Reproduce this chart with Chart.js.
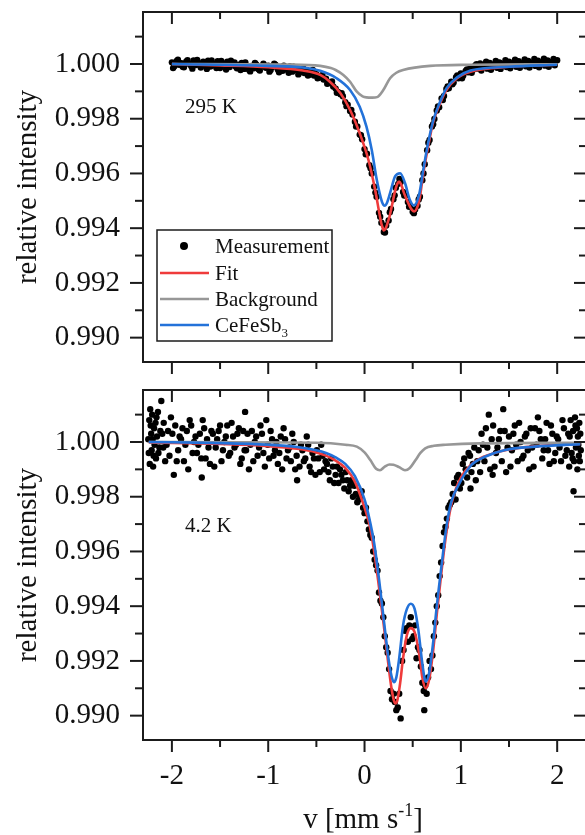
<!DOCTYPE html>
<html>
<head>
<meta charset="utf-8">
<script src="https://cdn.jsdelivr.net/npm/chart.js@4.4.1/dist/chart.umd.min.js"></script>
<style>
  html, body { margin: 0; padding: 0; background: #fff; overflow: hidden; width: 585px; height: 835px; }
  .panel { position: absolute; left: 0; }
  #roomWrap { top: 0; }
  #lowWrap { top: 380px; }
  canvas { display: block; }
</style>
</head>
<body>
<div class="panel" id="roomWrap"><canvas id="roomChart" width="600" height="380" style="width:600px;height:380px"></canvas></div>
<div class="panel" id="lowWrap"><canvas id="lowChart" width="600" height="455" style="width:600px;height:455px"></canvas></div>
<script>
const SERIF = '"Liberation Serif", "Times New Roman", serif';

const X_MIN = -2.3;
const X_MAX = 2.32;
const Y_MIN = 0.98911;
const Y_MAX = 1.0019;

// Axis ticks
const xMajorTicks = [-2, -1, 0, 1, 2];
const xMinorTicks = [-1.5, -0.5, 0.5, 1.5];
const yMajorTicks = [0.990, 0.992, 0.994, 0.996, 0.998, 1.000];
const yMinorTicks = [0.991, 0.993, 0.995, 0.997, 0.999, 1.001];

const seriesLabels = ['Measurement', 'Fit', 'Background', 'CeFeSb3'];
const seriesColors = ['#000000', '#ef3b3b', '#979797', '#2372d9'];

// ---- 295 K panel: [v (mm/s), relative intensity] ----
const roomMeasured = [
  [-2.000, 1.00006], [-1.975, 0.99992], [-1.950, 1.00011], [-1.925, 0.99997], [-1.900, 1.00003],
  [-1.875, 0.99988], [-1.850, 1.00009], [-1.825, 1.00001], [-1.800, 0.99993], [-1.775, 1.00013],
  [-1.750, 0.99996], [-1.725, 1.00004], [-1.700, 0.99987], [-1.675, 1.00008], [-1.650, 0.99999],
  [-1.625, 1.00012], [-1.600, 0.99991], [-1.575, 1.00002], [-1.550, 0.99994], [-1.525, 1.00010],
  [-1.500, 0.99985], [-1.475, 1.00003], [-1.450, 0.99996], [-1.425, 1.00008], [-1.400, 0.99989],
  [-1.375, 0.99999], [-1.350, 1.00006], [-1.325, 0.99984], [-1.300, 0.99997], [-1.275, 1.00004],
  [-1.250, 0.99982], [-1.225, 0.99990], [-1.200, 0.99979], [-1.175, 0.99993], [-1.150, 0.99984],
  [-1.125, 0.99998], [-1.100, 0.99981], [-1.075, 0.99991], [-1.050, 1.00001], [-1.025, 0.99986],
  [-1.000, 0.99994], [-0.975, 0.99978], [-0.950, 0.99990], [-0.925, 0.99997], [-0.900, 0.99980],
  [-0.875, 0.99989], [-0.850, 0.99975], [-0.825, 0.99988], [-0.800, 0.99979], [-0.775, 0.99991],
  [-0.750, 0.99972], [-0.725, 0.99984], [-0.700, 0.99977], [-0.675, 0.99969], [-0.650, 0.99981],
  [-0.625, 0.99967], [-0.600, 0.99975], [-0.575, 0.99961], [-0.550, 0.99972], [-0.525, 0.99958],
  [-0.500, 0.99963], [-0.475, 0.99950], [-0.450, 0.99955], [-0.425, 0.99943], [-0.400, 0.99946],
  [-0.375, 0.99930], [-0.350, 0.99932], [-0.325, 0.99918], [-0.300, 0.99910], [-0.275, 0.99898],
  [-0.250, 0.99889], [-0.225, 0.99882], [-0.200, 0.99860], [-0.175, 0.99851], [-0.150, 0.99828],
  [-0.125, 0.99815], [-0.100, 0.99789], [-0.075, 0.99772], [-0.050, 0.99742], [-0.025, 0.99725],
  [0.000, 0.99689], [0.025, 0.99672], [0.050, 0.99630], [0.075, 0.99600], [0.100, 0.99552],
  [0.125, 0.99515], [0.150, 0.99456], [0.175, 0.99420], [0.200, 0.99386], [0.225, 0.99410],
  [0.250, 0.99428], [0.275, 0.99470], [0.300, 0.99506], [0.325, 0.99548], [0.350, 0.99562],
  [0.375, 0.99569], [0.400, 0.99532], [0.425, 0.99520], [0.450, 0.99496], [0.475, 0.99482],
  [0.500, 0.99460], [0.525, 0.99468], [0.550, 0.99482], [0.575, 0.99515], [0.600, 0.99575],
  [0.625, 0.99634], [0.650, 0.99685], [0.675, 0.99722], [0.700, 0.99772], [0.725, 0.99799],
  [0.750, 0.99830], [0.775, 0.99842], [0.800, 0.99874], [0.825, 0.99883], [0.850, 0.99909],
  [0.875, 0.99911], [0.900, 0.99935], [0.925, 0.99932], [0.950, 0.99952], [0.975, 0.99948],
  [1.000, 0.99965], [1.025, 0.99958], [1.050, 0.99975], [1.075, 0.99970], [1.100, 0.99988],
  [1.125, 0.99979], [1.150, 0.99995], [1.175, 0.99983], [1.200, 1.00002], [1.225, 0.99987],
  [1.250, 0.99996], [1.275, 0.99983], [1.300, 1.00004], [1.325, 0.99990], [1.350, 0.99999],
  [1.375, 0.99986], [1.400, 1.00006], [1.425, 0.99992], [1.450, 1.00001], [1.475, 0.99989],
  [1.500, 1.00008], [1.525, 0.99995], [1.550, 1.00003], [1.575, 0.99990], [1.600, 1.00010],
  [1.625, 0.99996], [1.650, 1.00005], [1.675, 0.99992], [1.700, 1.00011], [1.725, 0.99998],
  [1.750, 1.00006], [1.775, 0.99993], [1.800, 1.00012], [1.825, 0.99999], [1.850, 1.00007],
  [1.875, 0.99994], [1.900, 1.00013], [1.925, 1.00000], [1.950, 1.00008], [1.975, 0.99995],
  [2.000, 1.00014],
  [-1.9875, 0.99985], [-1.9375, 1.00016], [-1.8875, 0.99990], [-1.8375, 1.00014], [-1.7875, 0.99983],
  [-1.7375, 1.00015], [-1.6875, 0.99994], [-1.6375, 0.99982], [-1.5875, 1.00013], [-1.5375, 0.99985],
  [-1.4875, 1.00011], [-1.4375, 0.99980], [-1.3875, 1.00012], [-1.3375, 0.99991], [-1.2875, 0.99978],
  [-1.2375, 1.00006], [-1.1875, 0.99973], [-1.1375, 1.00004], [-1.0875, 0.99976], [-1.0375, 0.99995],
  [-0.9875, 0.99972], [-0.9375, 1.00001], [-0.8875, 0.99970], [-0.8375, 0.99994], [-0.7875, 0.99968],
  [-0.7375, 0.99990], [-0.6875, 0.99962], [-0.6375, 0.99985], [-0.5875, 0.99958], [-0.5375, 0.99978],
  [-0.4875, 0.99948], [-0.4375, 0.99960], [-0.3875, 0.99928], [-0.3375, 0.99936], [-0.2875, 0.99895],
  [-0.2375, 0.99893], [-0.1875, 0.99846], [-0.1375, 0.99832], [-0.0875, 0.99772], [-0.0375, 0.99740],
  [0.0125, 0.99670], [0.0625, 0.99619], [0.1125, 0.99530], [0.1625, 0.99442], [0.2125, 0.99384],
  [0.2625, 0.99458], [0.3125, 0.99520], [0.3625, 0.99580], [0.4125, 0.99519], [0.4625, 0.99478],
  [0.5125, 0.99455], [0.5625, 0.99505], [0.6125, 0.99600], [0.6625, 0.99712], [0.7125, 0.99780],
  [0.7625, 0.99845], [0.8125, 0.99868], [0.8625, 0.99918], [0.9125, 0.99926], [0.9625, 0.99958],
  [1.0125, 0.99948], [1.0625, 0.99980], [1.1125, 0.99968], [1.1625, 0.99999], [1.2125, 0.99976],
  [1.2625, 1.00008], [1.3125, 0.99979], [1.3625, 1.00011], [1.4125, 0.99982], [1.4625, 1.00014],
  [1.5125, 0.99984], [1.5625, 1.00016], [1.6125, 0.99986], [1.6625, 1.00017], [1.7125, 0.99987],
  [1.7625, 1.00018], [1.8125, 0.99988], [1.8625, 1.00019], [1.9125, 0.99990], [1.9625, 1.00018]
];

const roomFit = [
  [-2.0, 1.00000], [-1.5, 0.99995], [-1.0, 0.99988], [-0.64, 0.99976], [-0.46, 0.99960],
  [-0.36, 0.99935], [-0.25, 0.99893], [-0.15, 0.99832], [-0.05, 0.99747], [0.04, 0.99650],
  [0.11, 0.99540], [0.16, 0.99443], [0.18, 0.99410], [0.20, 0.99392], [0.22, 0.99400],
  [0.24, 0.99420], [0.26, 0.99443], [0.32, 0.99540], [0.34, 0.99562], [0.36, 0.99570],
  [0.38, 0.99560], [0.41, 0.99528], [0.47, 0.99480], [0.49, 0.99468], [0.515, 0.99461],
  [0.54, 0.99470], [0.57, 0.99504], [0.61, 0.99601], [0.66, 0.99698], [0.71, 0.99784],
  [0.77, 0.99844], [0.85, 0.99905], [0.96, 0.99948], [1.1, 0.99972], [1.5, 0.99990],
  [2.0, 0.99997]
];

const roomBackground = [
  [-2.0, 1.00000], [-0.8, 0.99998], [-0.46, 0.99993], [-0.35, 0.99985], [-0.3, 0.99978],
  [-0.22, 0.99960], [-0.15, 0.99935], [-0.08, 0.99899], [-0.02, 0.99882], [0.02, 0.99878],
  [0.08, 0.99877], [0.13, 0.99879], [0.195, 0.99905], [0.265, 0.99948], [0.33, 0.99968],
  [0.40, 0.99978], [0.68, 0.99993], [1.1, 0.99997], [2.0, 0.99999]
];

const roomCeFeSb3 = [
  [-2.0, 1.00000], [-1.0, 0.99993], [-0.64, 0.99987], [-0.46, 0.99975], [-0.29, 0.99948],
  [-0.15, 0.99905], [-0.05, 0.99844], [0.02, 0.99771], [0.075, 0.99686], [0.127, 0.99577],
  [0.18, 0.99497], [0.195, 0.99486], [0.213, 0.99482], [0.23, 0.99490], [0.265, 0.99528],
  [0.317, 0.99589], [0.37, 0.99601], [0.42, 0.99565], [0.47, 0.99504], [0.515, 0.99483],
  [0.57, 0.99528], [0.61, 0.99613], [0.66, 0.99711], [0.71, 0.99789], [0.77, 0.99850],
  [0.85, 0.99911], [0.96, 0.99951], [1.1, 0.99976], [1.5, 0.99990], [2.0, 0.99997]
];

// ---- 4.2 K panel ----
const lowMeasured = [
  [-2.245, 1.0001], [-2.240, 0.9996], [-2.235, 1.0008], [-2.230, 0.9992], [-2.225, 1.0012],
  [-2.220, 1.0006], [-2.215, 1.0003], [-2.210, 0.9997], [-2.205, 1.0010], [-2.200, 1.0001],
  [-2.195, 0.9991], [-2.190, 0.9995], [-2.185, 1.0005], [-2.180, 0.9999], [-2.170, 1.0007],
  [-2.165, 0.9994], [-2.160, 1.0009], [-2.155, 1.0002], [-2.145, 1.0011], [-2.140, 0.9996],
  [-2.130, 0.9998], [-2.120, 1.0004], [-2.110, 1.0015], [-2.100, 1.0003], [-2.090, 0.9998],
  [-2.070, 0.9993], [-2.040, 1.0004], [-2.010, 1.0009], [-1.980, 0.9988], [-1.950, 0.9993],
  [-1.920, 1.0002], [-1.890, 1.0005], [-1.860, 0.9999], [-1.830, 0.9990], [-1.800, 1.0006],
  [-1.770, 1.0000], [-1.740, 0.9996], [-1.710, 1.0003], [-1.690, 0.9987], [-1.680, 1.0008],
  [-1.650, 0.9994], [-1.620, 0.9998], [-1.590, 1.0004], [-1.560, 0.9991], [-1.530, 1.0001],
  [-1.500, 1.0006], [-1.470, 0.9997], [-1.440, 1.0002], [-1.410, 0.9995], [-1.380, 1.0007],
  [-1.350, 0.9998], [-1.320, 1.0003], [-1.290, 0.9992], [-1.260, 1.0004], [-1.240, 1.0011],
  [-1.230, 0.9997], [-1.200, 0.9990], [-1.170, 1.0004], [-1.140, 1.0000], [-1.110, 0.9995],
  [-1.080, 1.0006], [-1.050, 0.9996], [-1.020, 1.0008], [-0.990, 0.9994], [-0.960, 1.0001],
  [-0.930, 0.9997], [-0.900, 0.9992], [-0.870, 1.0002], [-0.840, 1.0005], [-0.810, 0.9994],
  [-0.780, 0.9998], [-0.750, 1.0003], [-0.720, 0.9990], [-0.700, 0.9986], [-0.660, 0.9999],
  [-0.630, 0.9993], [-0.600, 1.0002], [-0.570, 0.9991], [-0.540, 0.9996], [-0.510, 0.9988],
  [-0.480, 0.9994], [-0.450, 0.9999], [-0.420, 0.9990], [-0.390, 0.9992], [-0.360, 0.9986],
  [-0.330, 0.9991], [-0.300, 0.9988], [-0.270, 0.9985], [-0.240, 0.9988], [-0.210, 0.9983],
  [-0.180, 0.9986], [-0.150, 0.9984], [-0.120, 0.9980], [-0.090, 0.9981], [-0.060, 0.9979],
  [-0.030, 0.9982], [0.000, 0.9974], [0.030, 0.9971], [0.060, 0.9966], [0.090, 0.9960],
  [0.120, 0.9955], [0.150, 0.9945], [0.180, 0.9941], [0.210, 0.9929], [0.240, 0.9923],
  [0.270, 0.9909], [0.300, 0.9908], [0.330, 0.9902], [0.360, 0.9908], [0.375, 0.9899],
  [0.390, 0.9920], [0.420, 0.9931], [0.450, 0.9927], [0.480, 0.9936], [0.510, 0.9929],
  [0.540, 0.9921], [0.570, 0.9924], [0.600, 0.9912], [0.620, 0.9902], [0.630, 0.9911],
  [0.660, 0.9914], [0.690, 0.9917], [0.720, 0.9929], [0.750, 0.9940], [0.780, 0.9951],
  [0.810, 0.9962], [0.840, 0.9969], [0.870, 0.9976], [0.900, 0.9978], [0.930, 0.9985],
  [0.960, 0.9987], [0.990, 0.9983], [1.020, 0.9992], [1.050, 0.9990], [1.080, 0.9996],
  [1.100, 0.9983], [1.110, 0.9989], [1.140, 0.9998], [1.170, 0.9993], [1.200, 0.9989],
  [1.230, 0.9999], [1.260, 1.0005], [1.290, 1.0010], [1.320, 1.0001], [1.330, 0.9988],
  [1.350, 0.9991], [1.380, 0.9998], [1.410, 1.0004], [1.440, 1.0012], [1.470, 0.9989],
  [1.500, 1.0002], [1.530, 0.9997], [1.560, 1.0006], [1.590, 0.9993], [1.620, 1.0000],
  [1.650, 0.9995], [1.680, 1.0003], [1.710, 0.9990], [1.740, 0.9998], [1.770, 1.0005],
  [1.800, 1.0009], [1.830, 1.0001], [1.860, 0.9997], [1.890, 1.0007], [1.920, 0.9992],
  [1.950, 1.0003], [1.980, 0.9996], [2.010, 1.0001], [2.040, 0.9993], [2.070, 1.0005],
  [2.100, 0.9997], [2.125, 0.9991], [2.130, 1.0002], [2.140, 1.0008], [2.150, 0.9996],
  [2.160, 0.9994], [2.165, 1.0004], [2.170, 0.9982], [2.175, 0.9993], [2.185, 1.0009],
  [2.190, 1.0006], [2.195, 0.9998], [2.205, 1.0005], [2.210, 0.9990], [2.215, 1.0002],
  [2.220, 0.9999], [2.225, 0.9995], [2.230, 1.0007], [2.235, 0.9993], [2.240, 1.0003],
  [2.245, 0.9997],
  [-2.085, 1.0007], [-2.055, 0.9999], [-2.025, 0.9995], [-1.995, 1.0003], [-1.965, 1.0006],
  [-1.935, 0.9997], [-1.905, 1.0001], [-1.875, 0.9993], [-1.845, 1.0004], [-1.815, 1.0008],
  [-1.785, 0.9996], [-1.755, 1.0002], [-1.725, 0.9999], [-1.695, 0.9994], [-1.665, 1.0005],
  [-1.635, 1.0001], [-1.605, 0.9992], [-1.575, 1.0003], [-1.545, 0.9998], [-1.515, 1.0004],
  [-1.485, 0.9993], [-1.455, 1.0000], [-1.425, 1.0006], [-1.395, 0.9996], [-1.365, 1.0002],
  [-1.335, 0.9999], [-1.305, 1.0005], [-1.275, 0.9994], [-1.245, 0.9997], [-1.215, 1.0003],
  [-1.185, 0.9999], [-1.155, 0.9993], [-1.125, 1.0002], [-1.095, 0.9998], [-1.065, 1.0003],
  [-1.035, 0.9991], [-1.005, 0.9999], [-0.975, 1.0004], [-0.945, 0.9995], [-0.915, 1.0000],
  [-0.885, 0.9996], [-0.855, 0.9990], [-0.825, 1.0001], [-0.795, 0.9997], [-0.765, 0.9993],
  [-0.735, 1.0000], [-0.705, 0.9995], [-0.675, 0.9991], [-0.645, 0.9997], [-0.615, 0.9994],
  [-0.585, 0.9999], [-0.555, 0.9989], [-0.525, 0.9994], [-0.495, 0.9997], [-0.465, 0.9989],
  [-0.435, 0.9995], [-0.405, 0.9993], [-0.375, 0.9989], [-0.345, 0.9994], [-0.315, 0.9985],
  [-0.285, 0.9991], [-0.255, 0.9990], [-0.225, 0.9986], [-0.195, 0.9989], [-0.165, 0.9982],
  [-0.135, 0.9986], [-0.105, 0.9984], [-0.075, 0.9978], [-0.045, 0.9980], [-0.015, 0.9976],
  [0.015, 0.9976], [0.045, 0.9968], [0.075, 0.9965], [0.105, 0.9957], [0.135, 0.9953],
  [0.165, 0.9942], [0.195, 0.9936], [0.225, 0.9925], [0.255, 0.9917], [0.285, 0.9906],
  [0.315, 0.9905], [0.345, 0.9903], [0.405, 0.9924], [0.435, 0.9932], [0.465, 0.9933],
  [0.495, 0.9928], [0.525, 0.9933], [0.555, 0.9925], [0.585, 0.9918], [0.615, 0.9909],
  [0.645, 0.9908], [0.675, 0.9920], [0.705, 0.9922], [0.735, 0.9934], [0.765, 0.9944],
  [0.795, 0.9956], [0.825, 0.9967], [0.855, 0.9972], [0.885, 0.9977],
  [0.915, 0.9981], [0.945, 0.9979], [0.975, 0.9988], [1.005, 0.9985], [1.035, 0.9994],
  [1.065, 0.9987], [1.095, 0.9995], [1.125, 0.9992], [1.155, 0.9986], [1.185, 0.9997],
  [1.215, 1.0003], [1.245, 0.9993], [1.275, 0.9998], [1.305, 0.9990], [1.335, 1.0006],
  [1.365, 0.9996], [1.395, 1.0001], [1.425, 0.9993], [1.455, 1.0004], [1.485, 0.9998],
  [1.515, 0.9991], [1.545, 1.0003], [1.575, 0.9999], [1.605, 1.0007], [1.635, 0.9994],
  [1.665, 1.0002], [1.695, 0.9997], [1.725, 1.0005], [1.755, 0.9991], [1.785, 0.9999],
  [1.815, 1.0004], [1.845, 0.9994], [1.875, 1.0001], [1.905, 0.9997], [1.935, 1.0006],
  [1.965, 0.9993], [1.995, 1.0002], [2.025, 0.9998], [2.055, 1.0008], [2.085, 0.9995],
  [2.115, 1.0003]
];

const lowFit = [
  [-2.24, 0.99998], [-1.5, 0.99993], [-1.0, 0.99985], [-0.7, 0.99975], [-0.5, 0.99962],
  [-0.4, 0.99950], [-0.3, 0.99932], [-0.2, 0.99905], [-0.1, 0.99855], [0.0, 0.99760],
  [0.05, 0.99700], [0.1, 0.99600], [0.15, 0.99470], [0.2, 0.99330], [0.25, 0.99180],
  [0.28, 0.99100], [0.305, 0.99055], [0.32, 0.99045], [0.34, 0.99055], [0.37, 0.99120],
  [0.4, 0.99210], [0.44, 0.99295], [0.48, 0.99320], [0.52, 0.99305], [0.57, 0.99220],
  [0.6, 0.99140], [0.635, 0.99100], [0.67, 0.99130], [0.71, 0.99230], [0.75, 0.99370],
  [0.8, 0.99530], [0.85, 0.99670], [0.9, 0.99770], [0.95, 0.99830], [1.0, 0.99870],
  [1.1, 0.99915], [1.2, 0.99940], [1.4, 0.99965], [1.6, 0.99978], [1.8, 0.99985],
  [2.0, 0.99990], [2.24, 0.99993]
];

const lowBackground = [
  [-2.24, 1.00000], [-0.5, 0.99997], [-0.2, 0.99990], [-0.08, 0.99983], [0.0, 0.99962],
  [0.06, 0.99934], [0.12, 0.99902], [0.16, 0.99897], [0.21, 0.99910], [0.26, 0.99918],
  [0.3, 0.99917], [0.36, 0.99908], [0.42, 0.99897], [0.47, 0.99905], [0.53, 0.99934],
  [0.58, 0.99960], [0.63, 0.99977], [0.72, 0.99986], [0.84, 0.99990], [1.2, 0.99995],
  [2.24, 0.99997]
];

const lowCeFeSb3 = [
  [-2.24, 1.00000], [-1.5, 0.99996], [-1.0, 0.99990], [-0.7, 0.99982], [-0.5, 0.99970],
  [-0.4, 0.99960], [-0.3, 0.99944], [-0.2, 0.99920], [-0.1, 0.99875], [0.0, 0.99790],
  [0.05, 0.99720], [0.1, 0.99630], [0.15, 0.99500], [0.2, 0.99350], [0.25, 0.99205],
  [0.28, 0.99145], [0.305, 0.99122], [0.33, 0.99140], [0.36, 0.99210], [0.4, 0.99330],
  [0.44, 0.99390], [0.48, 0.99409], [0.52, 0.99390], [0.56, 0.99310], [0.6, 0.99190],
  [0.635, 0.99125], [0.67, 0.99155], [0.71, 0.99260], [0.75, 0.99400], [0.8, 0.99550],
  [0.85, 0.99690], [0.9, 0.99780], [0.975, 0.99842], [1.11, 0.99916], [1.25, 0.99946],
  [1.46, 0.99971], [1.77, 0.99983], [2.24, 0.99992]
];

// Build the four datasets of one panel (lower order = drawn on top)
function makeDatasets(measured, fit, background, phase) {
  const line = (idx, data, order) => ({
    label: seriesLabels[idx],
    data: data,
    showLine: true,
    pointRadius: 0,
    borderColor: seriesColors[idx],
    borderWidth: 2.6,
    cubicInterpolationMode: 'monotone',
    order: order
  });
  return [
    {
      label: seriesLabels[0],
      data: measured,
      showLine: false,
      pointRadius: 3.2,
      pointBackgroundColor: seriesColors[0],
      pointBorderWidth: 0,
      order: 4
    },
    line(1, fit, 3),
    line(2, background, 2),
    line(3, phase, 1)
  ];
}

function strokeLine(ctx, x1, y1, x2, y2) {
  ctx.beginPath();
  ctx.moveTo(x1, y1);
  ctx.lineTo(x2, y2);
  ctx.stroke();
}

// Text with a lowered/raised small part, e.g. Sb_3 or s^-1
function drawScriptText(ctx, parts, x, y, size) {
  let cx = x;
  parts.forEach(p => {
    const s = p.small ? size * 0.62 : size;
    ctx.font = s + 'px ' + SERIF;
    ctx.fillText(p.text, cx, y + (p.shift || 0));
    cx += ctx.measureText(p.text).width;
  });
  return cx - x;
}

function measureScriptText(ctx, parts, size) {
  let w = 0;
  parts.forEach(p => {
    ctx.font = (p.small ? size * 0.62 : size) + 'px ' + SERIF;
    w += ctx.measureText(p.text).width;
  });
  return w;
}

// Frame, in/out ticks, labels and legend
const panelDecor = {
  id: 'panelDecor',
  afterDatasetsDraw(chart, args, opts) {
    const ctx = chart.ctx;
    const area = chart.chartArea;
    const xs = chart.scales.x;
    const ys = chart.scales.y;
    ctx.save();
    ctx.strokeStyle = '#1b1b1b';
    ctx.lineWidth = 2;
    ctx.strokeRect(area.left, area.top, area.right - area.left, area.bottom - area.top);

    xMajorTicks.forEach(v => {
      const px = xs.getPixelForValue(v);
      strokeLine(ctx, px, area.bottom, px, area.bottom + 12);
      strokeLine(ctx, px, area.top, px, area.top + 12);
    });
    xMinorTicks.forEach(v => {
      const px = xs.getPixelForValue(v);
      strokeLine(ctx, px, area.bottom, px, area.bottom + 7);
      strokeLine(ctx, px, area.top, px, area.top + 7);
    });
    yMajorTicks.forEach(v => {
      const py = ys.getPixelForValue(v);
      strokeLine(ctx, area.left - 13, py, area.left, py);
      strokeLine(ctx, area.right - 14, py, area.right, py);
    });
    yMinorTicks.forEach(v => {
      const py = ys.getPixelForValue(v);
      strokeLine(ctx, area.left - 8, py, area.left, py);
      strokeLine(ctx, area.right - 9, py, area.right, py);
    });

    ctx.fillStyle = '#111';
    ctx.textBaseline = 'alphabetic';
    ctx.textAlign = 'left';
    ctx.font = '21px ' + SERIF;
    ctx.fillText(opts.temperature, 185, opts.tempBaseline);

    // y axis title
    ctx.save();
    ctx.translate(36, (area.top + area.bottom) / 2);
    ctx.rotate(-Math.PI / 2);
    ctx.textAlign = 'center';
    ctx.font = '29px ' + SERIF;
    ctx.fillText('relative intensity', 0, 0);
    ctx.restore();

    if (opts.legend) {
      const box = { left: 157, top: 230, width: 175, height: 111 };
      ctx.fillStyle = '#fff';
      ctx.fillRect(box.left, box.top, box.width, box.height);
      ctx.lineWidth = 1.5;
      ctx.strokeStyle = '#1b1b1b';
      ctx.strokeRect(box.left, box.top, box.width, box.height);
      const rows = [246, 273, 299, 325];
      chart.data.datasets.forEach((ds, i) => {
        const y = rows[i];
        if (i === 0) {
          ctx.fillStyle = seriesColors[0];
          ctx.beginPath();
          ctx.arc(184, y, 4, 0, Math.PI * 2);
          ctx.fill();
        } else {
          ctx.strokeStyle = ds.borderColor;
          ctx.lineWidth = 2.5;
          strokeLine(ctx, 160, y, 209, y);
        }
        ctx.fillStyle = '#111';
        ctx.textAlign = 'left';
        if (ds.label === 'CeFeSb3') {
          drawScriptText(ctx, [{ text: 'CeFeSb' }, { text: '3', small: true, shift: 5 }], 215, y + 7, 21);
        } else {
          ctx.font = '21px ' + SERIF;
          ctx.fillText(ds.label, 215, y + 7);
        }
      });
    }

    if (opts.xTitle) {
      const parts = [{ text: 'v [mm s' }, { text: '-1', small: true, shift: -12 }, { text: ']' }];
      ctx.fillStyle = '#111';
      ctx.textAlign = 'left';
      const w = measureScriptText(ctx, parts, 29);
      drawScriptText(ctx, parts, 363 - w / 2, opts.xTitleBaseline, 29);
    }
    ctx.restore();
  }
};

function makeOptions(cfg) {
  return {
    responsive: false,
    animation: false,
    events: [],
    layout: { padding: { top: cfg.padTop, right: 12, left: 0, bottom: 0 } },
    plugins: {
      legend: { display: false },
      tooltip: { enabled: false },
      panelDecor: cfg.decor
    },
    scales: {
      x: {
        type: 'linear',
        min: X_MIN,
        max: X_MAX,
        grid: { display: false, drawTicks: false },
        border: { display: false },
        ticks: {
          display: cfg.showX,
          font: { family: SERIF, size: 29 },
          color: '#111',
          padding: 19,
          maxRotation: 0,
          autoSkip: false,
          callback: v => String(v)
        },
        afterBuildTicks: s => { s.ticks = xMajorTicks.map(v => ({ value: v })); },
        afterFit: s => {
          s.height = cfg.xHeight;
          s.paddingLeft = 0;
          s.paddingRight = 0;
        }
      },
      y: {
        type: 'linear',
        min: Y_MIN,
        max: Y_MAX,
        grid: { display: false, drawTicks: false },
        border: { display: false },
        ticks: {
          font: { family: SERIF, size: 29 },
          color: '#111',
          padding: 23,
          autoSkip: false,
          callback: v => v.toFixed(3)
        },
        afterBuildTicks: s => { s.ticks = yMajorTicks.map(v => ({ value: v })); },
        afterFit: s => {
          s.width = 143;
          s.paddingTop = 0;
          s.paddingBottom = 0;
        }
      }
    }
  };
}

new Chart(document.getElementById('roomChart'), {
  type: 'scatter',
  data: { datasets: makeDatasets(roomMeasured, roomFit, roomBackground, roomCeFeSb3) },
  options: makeOptions({
    padTop: 12,
    xHeight: 18,
    showX: false,
    decor: { temperature: '295 K', tempBaseline: 113, legend: true, xTitle: false }
  }),
  plugins: [panelDecor]
});

new Chart(document.getElementById('lowChart'), {
  type: 'scatter',
  data: { datasets: makeDatasets(lowMeasured, lowFit, lowBackground, lowCeFeSb3) },
  options: makeOptions({
    padTop: 10,
    xHeight: 95,
    showX: true,
    decor: { temperature: '4.2 K', tempBaseline: 152, legend: false, xTitle: true, xTitleBaseline: 448 }
  }),
  plugins: [panelDecor]
});
</script>
</body>
</html>
